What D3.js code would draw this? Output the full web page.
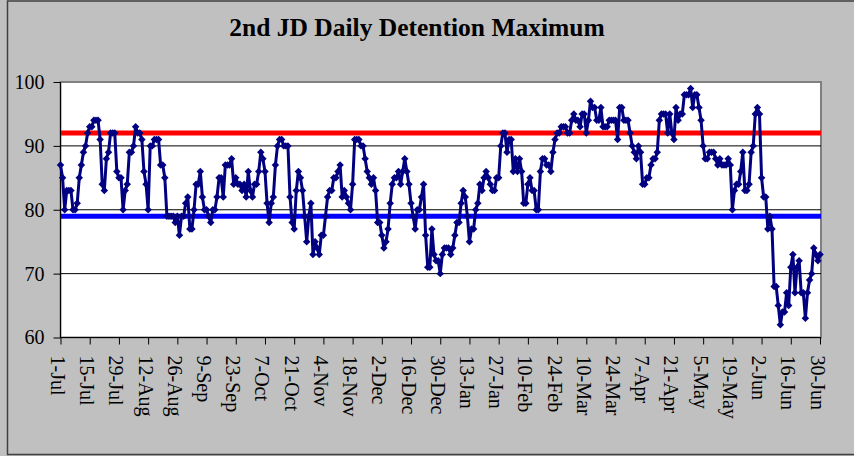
<!DOCTYPE html>
<meta charset="utf-8">
<head>
<style>
  body { margin: 0; background: #c0c0c0; }
  svg { display: block; }
  svg text { font-family: "Liberation Serif", "Times New Roman", "DejaVu Serif", serif; }
  .axis path, .axis line { stroke: #000; }
  .axis text { font-size: 20px; fill: #000; font-family: "Liberation Serif", "Times New Roman", "DejaVu Serif", serif; }
</style>
</head>
<body>
<svg id="chart" width="854" height="456"></svg>

<script src="https://cdn.jsdelivr.net/npm/d3@7"></script>
<script>

// daily detention maximum, 1-Jul .. 30-Jun (365 days)
var dailyMax = [
  87,85,80,83,83,83,80,80,81,85,
  87,89,90,92,93,93,94,94,94,91,
  84,83,88,89,92,92,92,86,85,85,
  80,83,84,89,89,90,93,92,92,91,
  86,84,80,90,90,91,91,91,87,87,
  85,79,79,79,79,78,79,76,79,79,
  81,82,77,77,80,84,84,86,82,80,
  80,79,78,80,80,82,85,85,82,87,
  87,87,88,84,85,84,84,83,84,82,
  86,83,82,84,84,86,89,88,86,81,
  78,81,82,87,90,91,91,90,90,90,
  82,78,77,83,86,85,83,79,75,79,
  81,73,75,74,73,76,76,79,82,83,
  83,85,85,86,87,82,83,82,81,80,
  84,91,91,91,90,90,88,86,85,84,
  85,83,78,78,76,74,75,77,81,84,
  85,85,86,84,86,88,86,84,81,79,
  77,80,80,82,84,76,71,71,77,73,
  72,72,70,73,74,74,74,73,74,76,
  78,78,81,83,82,79,75,77,77,80,
  81,84,83,85,86,85,84,83,83,85,
  85,90,92,92,89,91,91,86,88,86,
  88,86,81,81,84,85,83,83,80,80,
  86,88,88,87,87,86,89,91,92,92,
  93,93,93,92,92,94,95,94,94,93,
  95,95,92,94,97,96,96,94,94,96,
  93,93,93,94,94,94,94,91,96,96,
  94,94,94,92,90,89,88,90,89,84,
  84,85,85,87,88,88,89,94,95,95,
  95,92,95,92,91,96,94,95,95,98,
  98,98,99,96,98,98,96,94,90,88,
  88,89,89,89,88,87,88,87,87,87,
  88,87,80,83,84,84,86,89,83,83,
  84,89,90,95,96,95,85,82,82,77,
  79,77,68,68,65,62,64,64,67,65,
  71,73,67,71,72,67,67,63,67,69,
  70,74,73,72,73
];

// upper and lower limit lines
var upperLimit = 92;
var lowerLimit = 79;

// x tick labels, one every 14 days
var tickLabels = ["1-Jul","15-Jul","29-Jul","12-Aug","26-Aug","9-Sep","23-Sep","7-Oct",
  "21-Oct","4-Nov","18-Nov","2-Dec","16-Dec","30-Dec","13-Jan","27-Jan","10-Feb",
  "24-Feb","10-Mar","24-Mar","7-Apr","21-Apr","5-May","19-May","2-Jun","16-Jun","30-Jun"];
var yTicks = [60, 70, 80, 90, 100];

var serif = '"Liberation Serif", "Times New Roman", "DejaVu Serif", serif';
var plot = {left: 60.5, right: 821, top: 82, bottom: 337.5};

var svg = d3.select("#chart");

// outer frame
svg.append("rect")
    .attr("x", 7.5).attr("y", 1)
    .attr("width", 900).attr("height", 453.5)
    .attr("fill", "#c0c0c0")
    .attr("stroke", "#404040")
    .attr("stroke-width", 1.5);

svg.append("text")
    .attr("x", 417).attr("y", 36)
    .attr("text-anchor", "middle")
    .attr("font-family", serif)
    .style("font-size", "25.5px")
    .style("font-weight", "bold")
    .text("2nd JD Daily Detention Maximum");

var x = d3.scaleLinear().domain([0, dailyMax.length - 1]).range([plot.left, plot.right - 1]);
var y = d3.scaleLinear().domain([60, 100]).range([plot.bottom, plot.top]);

// plot area
svg.append("rect")
    .attr("x", plot.left).attr("y", plot.top)
    .attr("width", plot.right - plot.left).attr("height", plot.bottom - plot.top)
    .attr("fill", "#fff")
    .attr("stroke", "#808080")
    .attr("stroke-width", 2);

// gridlines
svg.append("g").selectAll("line")
    .data(yTicks.filter(function(d) { return d > 60 && d < 100; }))
  .enter().append("line")
    .attr("x1", plot.left).attr("x2", plot.right)
    .attr("y1", function(d) { return y(d); })
    .attr("y2", function(d) { return y(d); })
    .attr("stroke", "#000")
    .attr("stroke-width", 1);

// limit lines
svg.append("line")
    .attr("x1", plot.left).attr("x2", plot.right)
    .attr("y1", y(upperLimit)).attr("y2", y(upperLimit))
    .attr("stroke", "#ff0000").attr("stroke-width", 5);
svg.append("line")
    .attr("x1", plot.left).attr("x2", plot.right)
    .attr("y1", y(lowerLimit)).attr("y2", y(lowerLimit))
    .attr("stroke", "#0000ff").attr("stroke-width", 5);

// axes
var tickIdx = tickLabels.map(function(d, i) { return i * 14; });

svg.append("g")
    .attr("class", "axis")
    .attr("transform", "translate(" + plot.left + ",0)")
    .call(d3.axisLeft(y).tickValues(yTicks).tickSize(7).tickPadding(9).tickFormat(d3.format("d")))
    .call(function(g) { g.attr("font-family", serif).attr("font-size", 20); })
    .select(".domain").remove();

svg.append("line")
    .attr("x1", plot.left).attr("x2", plot.left)
    .attr("y1", plot.top).attr("y2", plot.bottom)
    .attr("stroke", "#000");

var xAxis = svg.append("g")
    .attr("class", "axis")
    .attr("transform", "translate(0," + plot.bottom + ")")
    .call(d3.axisBottom(x).tickValues(tickIdx).tickSize(7)
        .tickFormat(function(d, i) { return tickLabels[i]; }))
    .call(function(g) { g.attr("font-family", serif).attr("font-size", 20); });
xAxis.select(".domain").remove();
xAxis.append("line")
    .attr("x1", plot.left).attr("x2", plot.right)
    .attr("stroke", "#000");
xAxis.selectAll("text")
    .attr("transform", "rotate(90)")
    .attr("x", 18).attr("y", 0)
    .attr("dy", "0.5em")
    .style("text-anchor", "start");

// data series
svg.append("path")
    .datum(dailyMax)
    .attr("fill", "none")
    .attr("stroke", "#000080")
    .attr("stroke-width", 3)
    .attr("stroke-linejoin", "round")
    .attr("d", d3.line()
        .x(function(d, i) { return x(i); })
        .y(function(d) { return y(d); }));

svg.append("g").selectAll("path")
    .data(dailyMax)
  .enter().append("path")
    .attr("d", d3.symbol().type(d3.symbolSquare).size(28))
    .attr("transform", function(d, i) { return "translate(" + x(i) + "," + y(d) + ") rotate(45)"; })
    .attr("fill", "#000080");

</script>
</body>
